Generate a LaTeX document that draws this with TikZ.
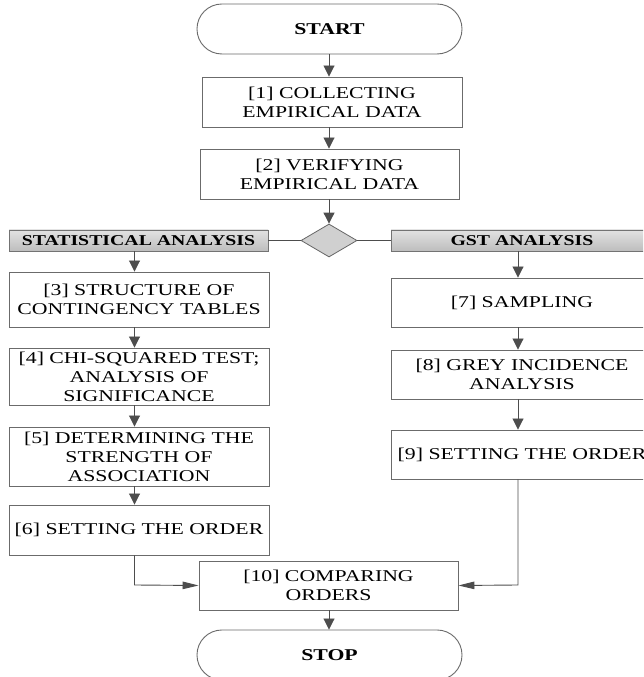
\documentclass[tikz,border=0pt]{standalone}
\usepackage{fontspec}
\setmainfont{Liberation Serif}[FakeStretch=1.32]
\usetikzlibrary{shapes.geometric,arrows.meta}
\definecolor{boxline}{HTML}{6B6B6B}
\definecolor{conline}{HTML}{4D4D4D}
\definecolor{headtop}{HTML}{E2E2E2}
\definecolor{headbot}{HTML}{BDBDBD}
\definecolor{diafill}{HTML}{D0D0D0}
\tikzset{
  stepbox/.style={draw=boxline, line width=0.9pt, fill=white, rectangle, inner sep=0pt,
    align=center, font=\fontsize{16.5}{19}\selectfont},
  termbox/.style={draw=boxline, line width=0.9pt, fill=white, rectangle, rounded corners=24.9pt,
    inner sep=0pt, minimum width=265pt, minimum height=50pt, font=\bfseries\fontsize{16.5}{19}\selectfont},
  headbox/.style={draw=black!55, line width=0.8pt, rectangle, top color=headtop, bottom color=headbot,
    inner sep=0pt, minimum height=21pt, font=\bfseries\fontsize{15}{17}\selectfont},
  decbox/.style={draw=black!60, line width=0.8pt, fill=diafill, diamond, inner sep=0pt,
    minimum width=56pt, minimum height=33pt},
  varrow/.style={draw=conline, line width=0.9pt, -{Triangle[length=11pt,width=11pt]}},
  harrow/.style={draw=conline, line width=0.9pt, -{Triangle[length=16pt,width=7.5pt]}},
  plainline/.style={draw=conline, line width=0.9pt}
}
\begin{document}
\begin{tikzpicture}[x=1pt,y=1pt]
\useasboundingbox (0,0) rectangle (643,677);
\clip (0,0) rectangle (643,677);
\fill[white] (0,0) rectangle (643,677);
% column coordinates
\coordinate (lx) at (134.5,0);
\coordinate (mx) at (329,0);
\coordinate (rx) at (518,0);
\coordinate (jy) at (0,92);
% nodes
\node[termbox] (start) at (329.5,648) {START};
\node[stepbox, minimum width=260pt, minimum height=50pt] (b1) at (332,575) {[1] COLLECTING\\EMPIRICAL DATA};
\node[stepbox, minimum width=259pt, minimum height=50pt] (b2) at (329.5,503) {[2] VERIFYING\\EMPIRICAL DATA};
\node[decbox] (dec) at (329,436.5) {};
\node[headbox, minimum width=259pt] (hs) at (138.5,436.5) {STATISTICAL ANALYSIS};
\node[headbox, minimum width=262pt] (hg) at (522,436.5) {GST ANALYSIS};
\node[stepbox, minimum width=260pt, minimum height=55pt] (b3) at (139,377.5) {[3] STRUCTURE OF\\CONTINGENCY TABLES};
\node[stepbox, minimum width=260pt, minimum height=57pt] (b4) at (139,300.5) {[4] CHI-SQUARED TEST;\\ANALYSIS OF\\SIGNIFICANCE};
\node[stepbox, minimum width=260pt, minimum height=59pt] (b5) at (139,220.5) {[5] DETERMINING THE\\STRENGTH OF\\ASSOCIATION};
\node[stepbox, minimum width=260pt, minimum height=50pt] (b6) at (139,147) {[6] SETTING THE ORDER};
\node[stepbox, minimum width=262pt, minimum height=49pt] (b7) at (522,374.5) {[7] SAMPLING};
\node[stepbox, minimum width=262pt, minimum height=49pt] (b8) at (522,302.5) {[8] GREY INCIDENCE\\ANALYSIS};
\node[stepbox, minimum width=262pt, minimum height=49pt] (b9) at (522,222.5) {[9] SETTING THE ORDER};
\node[stepbox, minimum width=259pt, minimum height=49pt] (b10) at (328.5,91.5) {[10] COMPARING\\ORDERS};
\node[termbox] (stop) at (329.5,22) {STOP};
% connectors
\draw[varrow] (start.south -| mx) -- (b1.north -| mx);
\draw[varrow] (b1.south -| mx) -- (b2.north -| mx);
\draw[varrow] (b2.south -| mx) -- (dec.north);
\draw[plainline] (dec.west) -- (hs.east);
\draw[plainline] (dec.east) -- (hg.west);
\draw[varrow] (hs.south -| lx) -- (b3.north -| lx);
\draw[varrow] (b3.south -| lx) -- (b4.north -| lx);
\draw[varrow] (b4.south -| lx) -- (b5.north -| lx);
\draw[varrow] (b5.south -| lx) -- (b6.north -| lx);
\draw[varrow] (hg.south -| rx) -- (b7.north -| rx);
\draw[varrow] (b7.south -| rx) -- (b8.north -| rx);
\draw[varrow] (b8.south -| rx) -- (b9.north -| rx);
\draw[harrow] (b6.south -| lx) -- (lx |- jy) -- (b10.west);
\draw[harrow] (b9.south -| rx) -- (rx |- jy) -- (b10.east);
\draw[varrow] (b10.south -| mx) -- (stop.north -| mx);
\end{tikzpicture}
\end{document}
